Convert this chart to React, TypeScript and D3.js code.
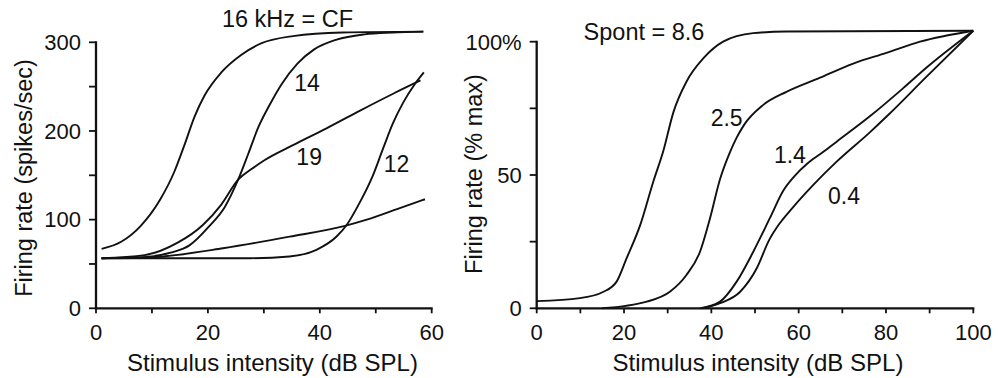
import React from "react";
import * as d3 from "d3";

// Rate-intensity functions of single fibers: left, one fiber at several tone frequencies (kHz);
// right, normalized functions for fibers of different spontaneous rate (spikes/s).

type Pt = [number, number];

// Left panel: firing rate (spikes/sec) vs stimulus intensity (dB SPL)
const rateCF16: Pt[] = [[1, 67], [4.5, 75], [8, 93], [11.5, 123], [14, 154], [15.8, 184], [17.6, 216], [19.4, 240], [22.4, 266], [26, 286], [29.6, 299], [35.2, 307], [44, 311], [58.5, 312]];
const rate14: Pt[] = [[1, 56.5], [9, 58], [13.5, 63], [16.7, 71], [20.3, 93], [23, 114], [25.4, 145], [27.2, 174], [29, 204], [31, 229], [33.2, 253], [36, 276], [39, 292], [43, 303], [48, 309], [53, 311], [58.5, 312]];
const rate19: Pt[] = [[1, 56.5], [8.7, 60], [14.6, 74], [19.1, 94], [22.4, 117], [25.4, 145], [27.8, 157], [30.1, 167], [35.2, 184], [41.2, 203], [47.2, 223], [53.1, 242], [58, 257]];
const rate12: Pt[] = [[1, 56.5], [27.5, 56.5], [34.6, 58.5], [39.4, 66], [43, 81], [44.8, 94], [47.2, 120], [49.5, 150], [51.3, 180], [53.1, 209], [54.9, 232], [57, 253], [58.6, 266]];
const rateLow: Pt[] = [[1, 56.5], [8, 57], [12, 58.5], [22.7, 67.7], [34.6, 80.8], [44.5, 93], [48.4, 100], [54.3, 113], [58.8, 123]];

const leftSeries = [rateCF16, rate14, rate19, rate12, rateLow];
const leftLabels: { text: string; db: number; rate: number }[] = [
  { text: "14", db: 37.7, rate: 254 },
  { text: "19", db: 38.1, rate: 171 },
  { text: "12", db: 53.7, rate: 163 },
];
const leftTitle = "16 kHz = CF";

// Right panel: firing rate (% of max) vs stimulus intensity (dB SPL)
const spont86: Pt[] = [[0, 2.7], [9.9, 3.8], [15.3, 6.2], [18.3, 10], [20.6, 18.8], [23.7, 31.2], [26.7, 47.5], [29, 59], [31.3, 73.5], [34.3, 85], [38.2, 93.8], [42.7, 100], [49.6, 103.2], [57.2, 103.8], [100, 104.1]];
const spont25: Pt[] = [[15, 0], [25.2, 2.5], [30.5, 6.2], [34.3, 12.5], [37.4, 21.2], [39.7, 33.8], [42, 48.5], [44.3, 58.7], [45.8, 64], [47.5, 68.8], [51.9, 76.3], [57.2, 81.2], [64.9, 86.5], [72.5, 91.8], [80.1, 95.8], [87.8, 100], [100, 104.1]];
const spont14: Pt[] = [[37.5, 0], [42, 2.5], [45.8, 10], [49.6, 21.2], [53.4, 33.8], [56.5, 44.2], [59, 49.5], [62, 54.3], [65.5, 58.5], [68.7, 62.5], [76.3, 72], [83.9, 82.5], [89.3, 90.3], [100, 104.1]];
const spont04: Pt[] = [[38, 0], [42, 1.9], [46.6, 6.2], [50.4, 15], [53.2, 25.5], [55.5, 31.5], [58.5, 37.5], [63.3, 46.2], [68.7, 55], [76.3, 66], [80.5, 72.5], [89.3, 86.9], [100, 104.1]];

const rightSeries = [spont86, spont25, spont14, spont04];
const rightLabels: { text: string; db: number; pct: number }[] = [
  { text: "2.5", db: 43.5, pct: 71.5 },
  { text: "1.4", db: 58, pct: 57.5 },
  { text: "0.4", db: 70.4, pct: 42 },
];
const rightTitle = "Spont = 8.6";

// Axis ticks and labels
const leftXMajor = [0, 20, 40, 60];
const leftXMinor = [0, 10, 20, 30, 40, 50, 60];
const leftYMajor = [0, 100, 200, 300];
const leftYMinor = [0, 50, 100, 150, 200, 250, 300];
const rightXMajor = [0, 20, 40, 60, 80, 100];
const rightXMinor = [0, 10, 20, 30, 40, 50, 60, 70, 80, 90, 100];
const rightYLabels: [number, string][] = [[0, "0"], [50, "50"], [100, "100%"]];
const rightYMinor = [0, 25, 50, 75, 100];

const xTitle = "Stimulus intensity (dB SPL)";
const leftYTitle = "Firing rate (spikes/sec)";
const rightYTitle = "Firing rate (% max)";

const INK = "#111";
const FONT = "'Liberation Sans', Arial, Helvetica, sans-serif";
const TICK_FS = 22;
const TITLE_FS = 23.5;

const AXIS_Y0 = 308.3;

interface PanelProps {
  x: d3.ScaleLinear<number, number>;
  y: d3.ScaleLinear<number, number>;
  series: Pt[][];
  xMajor: number[];
  xMinor: number[];
  yLabels: [number, string][];
  yMinor: number[];
  yTitle: string;
  yTitleX: number;
  yTitleY: number;
  xTitleX: number;
}

function Panel(p: PanelProps) {
  const line = d3
    .line<Pt>()
    .x((d) => p.x(d[0]))
    .y((d) => p.y(d[1]))
    .curve(d3.curveMonotoneX);
  const [x0, x1] = p.x.range();
  const [yb, yt] = p.y.range();
  return (
    <g>
      {p.series.map((s, i) => (
        <path key={i} d={line(s) || ""} fill="none" stroke={INK} strokeWidth={1.9} strokeLinejoin="round" />
      ))}
      {/* axes */}
      <line x1={x0} x2={x0} y1={yt - 1} y2={yb + 1} stroke={INK} strokeWidth={2.3} />
      <line x1={x0 - 1} x2={x1 + 1} y1={yb} y2={yb} stroke={INK} strokeWidth={2.3} />
      {p.yMinor.map((v) => (
        <line key={"ym" + v} x1={x0 - 7} x2={x0} y1={p.y(v)} y2={p.y(v)} stroke={INK} strokeWidth={1.8} />
      ))}
      {p.xMinor.map((v) => (
        <line key={"xm" + v} x1={p.x(v)} x2={p.x(v)} y1={yb} y2={yb + 5} stroke={INK} strokeWidth={1.8} />
      ))}
      {p.yLabels.map(([v, t]) => (
        <text key={"yl" + v} x={x0 - 15} y={p.y(v) + 7.8} textAnchor="end" fontSize={TICK_FS} fill={INK}>
          {t}
        </text>
      ))}
      {p.xMajor.map((v) => (
        <text key={"xl" + v} x={p.x(v)} y={339.5} textAnchor="middle" fontSize={TICK_FS} fill={INK}>
          {v}
        </text>
      ))}
      <text x={p.xTitleX} y={370.5} textAnchor="middle" fontSize={TITLE_FS + 0.5} fill={INK}>
        {xTitle}
      </text>
      <text
        transform={`translate(${p.yTitleX},${p.yTitleY}) rotate(-90)`}
        textAnchor="middle"
        dominantBaseline="central"
        fontSize={TITLE_FS}
        fill={INK}
      >
        {p.yTitle}
      </text>
    </g>
  );
}

export default function App() {
  const xL = d3.scaleLinear().domain([0, 60]).range([96, 431.7]);
  const yL = d3.scaleLinear().domain([0, 300]).range([AXIS_Y0, 42.3]);
  const xR = d3.scaleLinear().domain([0, 100]).range([536.7, 973.3]);
  const yR = d3.scaleLinear().domain([0, 100]).range([AXIS_Y0, 41.7]);

  return (
    <svg
      width={999}
      height={378}
      viewBox="0 0 999 378"
      style={{ position: "absolute", left: 0, top: 0, background: "#fff", fontFamily: FONT }}
    >
      <rect width={999} height={378} fill="#fff" />
      <Panel
        x={xL}
        y={yL}
        series={leftSeries}
        xMajor={leftXMajor}
        xMinor={leftXMinor}
        yLabels={leftYMajor.map((v) => [v, String(v)] as [number, string])}
        yMinor={leftYMinor}
        yTitle={leftYTitle}
        yTitleX={24}
        yTitleY={178}
        xTitleX={272.5}
      />
      <Panel
        x={xR}
        y={yR}
        series={rightSeries}
        xMajor={rightXMajor}
        xMinor={rightXMinor}
        yLabels={rightYLabels}
        yMinor={rightYMinor}
        yTitle={rightYTitle}
        yTitleX={474}
        yTitleY={174}
        xTitleX={758}
      />
      <text x={287.5} y={26.7} textAnchor="middle" fontSize={TITLE_FS} fill={INK}>
        {leftTitle}
      </text>
      <text x={644} y={40} textAnchor="middle" fontSize={TITLE_FS} fill={INK}>
        {rightTitle}
      </text>
      {leftLabels.map((l) => (
        <text key={l.text} x={xL(l.db)} y={yL(l.rate)} textAnchor="middle" dominantBaseline="central" fontSize={TITLE_FS - 0.5} fill={INK}>
          {l.text}
        </text>
      ))}
      {rightLabels.map((l) => (
        <text key={l.text} x={xR(l.db)} y={yR(l.pct)} textAnchor="middle" dominantBaseline="central" fontSize={TITLE_FS - 0.5} fill={INK}>
          {l.text}
        </text>
      ))}
    </svg>
  );
}
